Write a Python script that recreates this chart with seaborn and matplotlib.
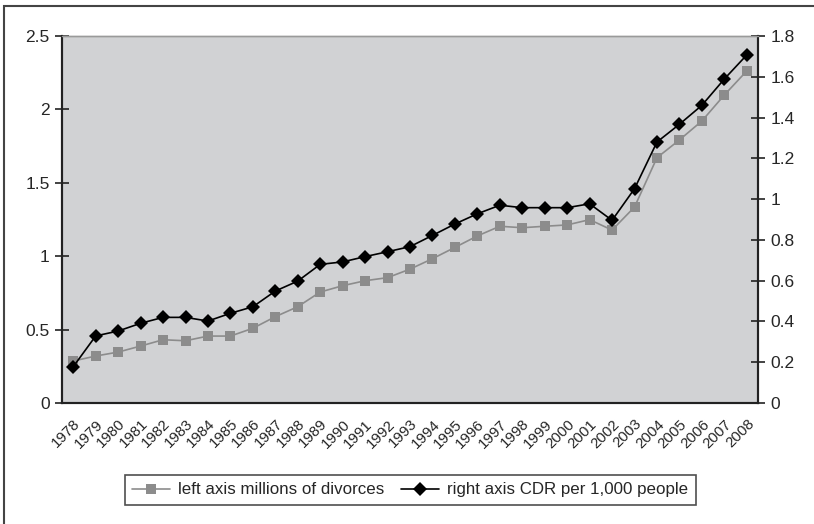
import numpy as np
import pandas as pd
import matplotlib
matplotlib.use("Agg")
import matplotlib.pyplot as plt
import matplotlib.patches as patches
import seaborn as sns

# Years and the two series
years = [str(y) for y in range(1978, 2009)]
divorces = [0.286, 0.320, 0.347, 0.388, 0.431, 0.424, 0.456, 0.456, 0.509, 0.588,
            0.656, 0.756, 0.799, 0.833, 0.854, 0.912, 0.983, 1.060, 1.138, 1.204,
            1.194, 1.204, 1.213, 1.249, 1.178, 1.335, 1.671, 1.792, 1.921, 2.098,
            2.262]
cdr = [0.178, 0.329, 0.353, 0.391, 0.420, 0.420, 0.402, 0.440, 0.472, 0.549,
       0.598, 0.680, 0.692, 0.718, 0.742, 0.767, 0.822, 0.878, 0.928, 0.970,
       0.958, 0.958, 0.958, 0.977, 0.896, 1.051, 1.280, 1.367, 1.460, 1.589,
       1.707]

df = pd.DataFrame({"Year": years, "Divorces": divorces, "CDR": cdr})
df["pos"] = np.arange(len(df))

sns.set_style("white")
plt.rcParams["font.family"] = ["Liberation Sans", "DejaVu Sans"]

fig = plt.figure(figsize=(8.14, 5.24), dpi=100)
ax = fig.add_axes([0.0762, 0.2309, 0.855, 0.7004])
ax2 = ax.twinx()

ax.set_facecolor("#d1d2d4")
ax2.patch.set_visible(False)

sns.lineplot(data=df, x="pos", y="Divorces", ax=ax, color="#8c8c8c", lw=1.2,
             marker="s", markersize=7.5, markeredgewidth=0,
             label="left axis millions of divorces", legend=False)
sns.lineplot(data=df, x="pos", y="CDR", ax=ax2, color="black", lw=1.2,
             marker="D", markersize=7, markeredgewidth=0,
             label="right axis CDR per 1,000 people", legend=False)

ax.set_xlim(-0.5, len(df) - 0.5)
ax.set_ylim(0, 2.5)
ax2.set_ylim(0, 1.8)
ax.set_yticks([0, 0.5, 1, 1.5, 2, 2.5])
ax.set_yticklabels(["0", "0.5", "1", "1.5", "2", "2.5"])
ax2.set_yticks([0, 0.2, 0.4, 0.6, 0.8, 1, 1.2, 1.4, 1.6, 1.8])
ax2.set_yticklabels(["0", "0.2", "0.4", "0.6", "0.8", "1", "1.2", "1.4", "1.6", "1.8"])

ax.set_xticks(df["pos"])
ax.set_xticklabels(years, rotation=45, ha="right", rotation_mode="anchor", fontsize=10.8)
ax.set_xticks(np.arange(-0.5, len(df)), minor=True)
ax.tick_params(axis="x", which="major", length=0, pad=10)
ax.tick_params(axis="x", which="minor", length=10, direction="inout", width=1.2, color="#222")
ax.tick_params(axis="y", length=10, direction="inout", width=1.2, color="#222",
               labelsize=12.5, pad=4)
ax2.tick_params(axis="y", length=10, direction="inout", width=1.2, color="#222",
                labelsize=12.5, pad=4)
ax.set_xlabel("")
ax.set_ylabel("")
ax2.set_ylabel("")

for a in (ax, ax2):
    for side in ("left", "right", "bottom"):
        a.spines[side].set_color("#222")
        a.spines[side].set_linewidth(1.5)
    a.spines["top"].set_color("#9a9a9a")
    a.spines["top"].set_linewidth(1)

# Legend below the chart
h1, l1 = ax.get_legend_handles_labels()
h2, l2 = ax2.get_legend_handles_labels()
fig.legend(h1 + h2, l1 + l2, loc="center", bbox_to_anchor=(0.504, 0.065), ncol=2,
           frameon=True, fancybox=False, edgecolor="#222", fontsize=12.2,
           handlelength=2.2, columnspacing=1.0, borderpad=0.45, handletextpad=0.5)
fig.legends[0].get_frame().set_linewidth(1.2)

# Outer frame around the figure
fig.patches.append(patches.Rectangle((0.0049, -0.05), 1.1, 1.0385, transform=fig.transFigure,
                                     fill=False, edgecolor="#444", linewidth=1.5))

fig.savefig("out.png", dpi=100)
